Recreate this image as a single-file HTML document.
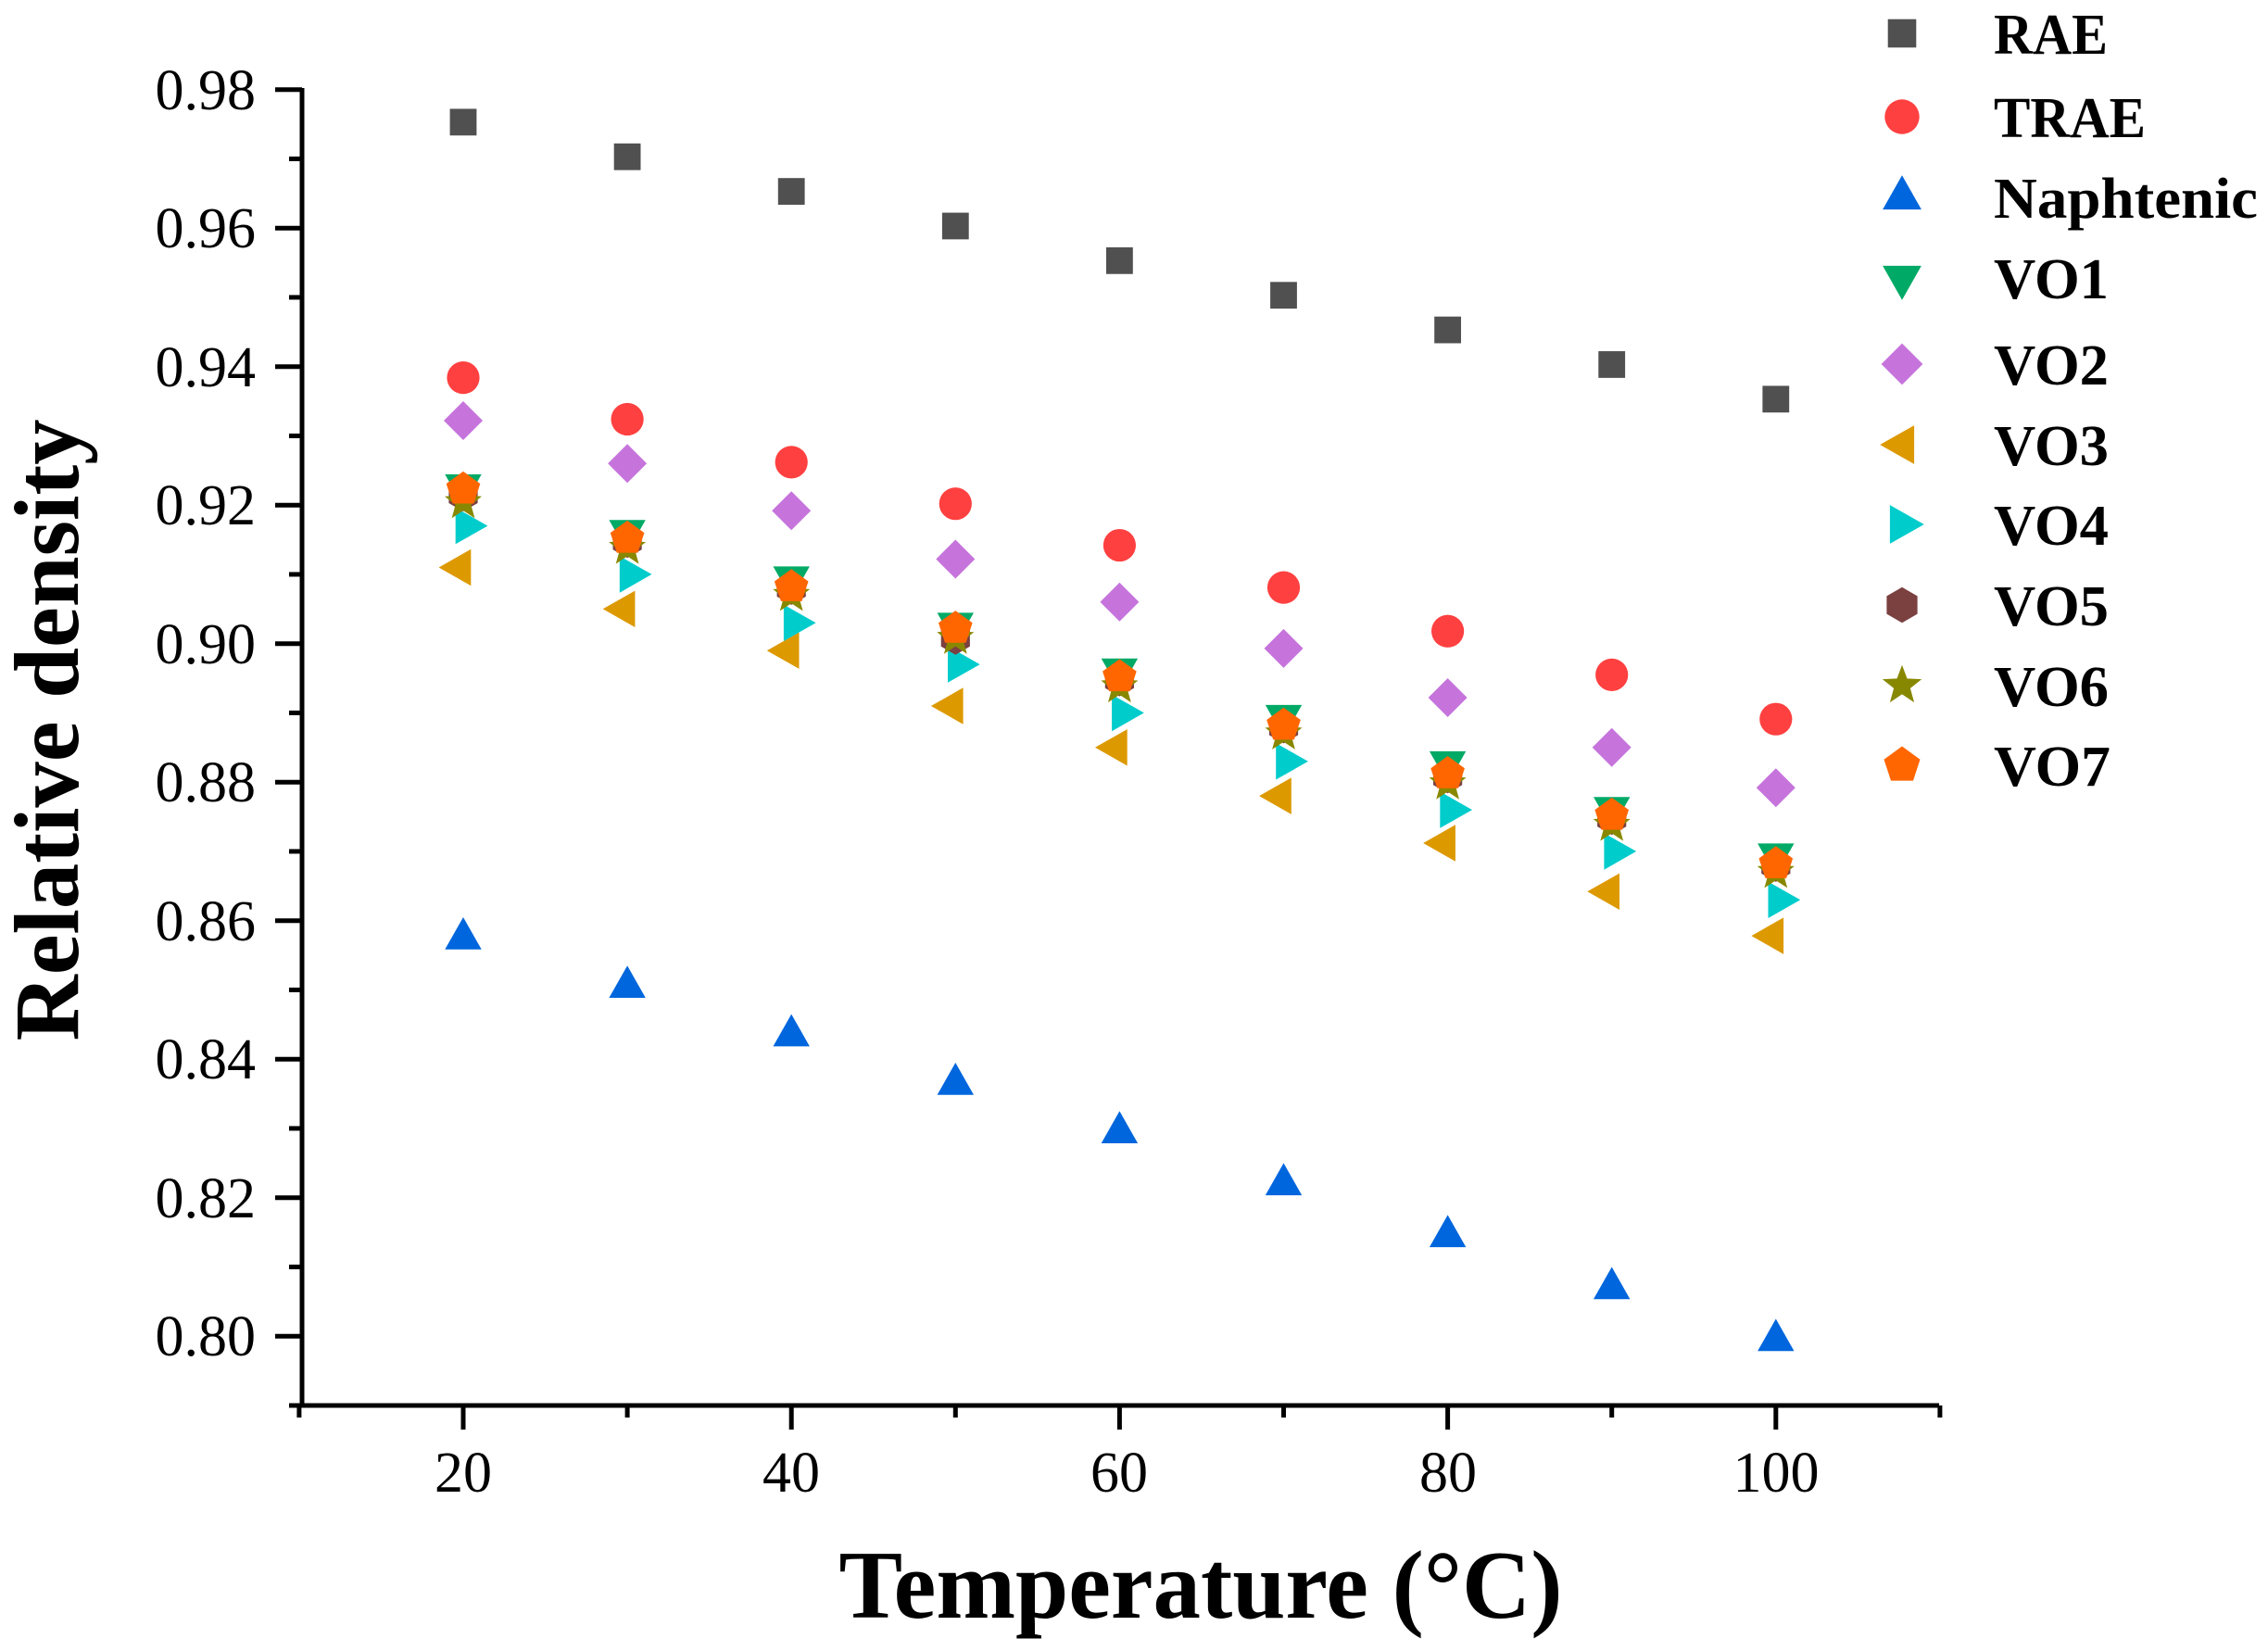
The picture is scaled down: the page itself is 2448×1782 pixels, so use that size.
<!DOCTYPE html>
<html><head><meta charset="utf-8"><style>html,body{margin:0;padding:0;background:#fff}svg{display:block}</style></head>
<body>
<svg id="s" width="2448" height="1782" xmlns="http://www.w3.org/2000/svg" font-family="Liberation Serif, serif">
<rect width="2448" height="1782" fill="#fff"/>
<g id="axes" stroke="#000" stroke-width="5" fill="none"></g>
<g font-size="62" text-anchor="end">
<text x="276" y="118">0.98</text>
<text x="276" y="267">0.96</text>
<text x="276" y="417">0.94</text>
<text x="276" y="566">0.92</text>
<text x="276" y="716">0.90</text>
<text x="276" y="865">0.88</text>
<text x="276" y="1015">0.86</text>
<text x="276" y="1164">0.84</text>
<text x="276" y="1314">0.82</text>
<text x="276" y="1463">0.80</text>
</g>
<g font-size="62" text-anchor="middle">
<text x="500" y="1610">20</text>
<text x="854" y="1610">40</text>
<text x="1208" y="1610">60</text>
<text x="1563" y="1610">80</text>
<text x="1917" y="1610">100</text>
</g>
<text x="1296" y="1746" font-size="105" font-weight="bold" text-anchor="middle" textLength="781" lengthAdjust="spacingAndGlyphs">Temperature (°C)</text>
<text transform="translate(84,788) rotate(-90)" font-size="100" font-weight="bold" text-anchor="middle" textLength="671" lengthAdjust="spacingAndGlyphs">Relative density</text>
<g id="pts"></g>
<g font-size="62" font-weight="bold" lengthAdjust="spacingAndGlyphs">
<text x="2152" y="58" textLength="123" lengthAdjust="spacingAndGlyphs">RAE</text>
<text x="2152" y="148" textLength="164" lengthAdjust="spacingAndGlyphs">TRAE</text>
<text x="2152" y="235" textLength="285" lengthAdjust="spacingAndGlyphs">Naphtenic</text>
<text x="2152" y="322" textLength="124" lengthAdjust="spacingAndGlyphs">VO1</text>
<text x="2152" y="415" textLength="124" lengthAdjust="spacingAndGlyphs">VO2</text>
<text x="2152" y="502" textLength="124" lengthAdjust="spacingAndGlyphs">VO3</text>
<text x="2152" y="588" textLength="124" lengthAdjust="spacingAndGlyphs">VO4</text>
<text x="2152" y="675" textLength="124" lengthAdjust="spacingAndGlyphs">VO5</text>
<text x="2152" y="762" textLength="124" lengthAdjust="spacingAndGlyphs">VO6</text>
<text x="2152" y="848" textLength="126" lengthAdjust="spacingAndGlyphs">VO7</text>
</g>
<g id="leg"></g>
</svg>
<script>
var NS="http://www.w3.org/2000/svg";
function X(v){return 500+(v-20)*17.71;}
function Y(v){return 96.7+(0.98-v)*7475;}
var ax=document.getElementById("axes");
function line(x1,y1,x2,y2){var l=document.createElementNS(NS,"line");l.setAttribute("x1",x1);l.setAttribute("y1",y1);l.setAttribute("x2",x2);l.setAttribute("y2",y2);ax.appendChild(l);}
line(326,95,326,1519);line(324,1517,2093,1517);
for(var i=0;i<=18;i++){var v=0.80+i*0.01;var y=Y(v);line(i%2==0?297:312,y,326,y);}
line(312,1517,326,1517);
for(var t=10;t<=110;t+=10){var x=X(t);line(x,1517,x,(t%20==0)?1543:1530);}
function poly(pts){return pts.map(function(p){return p[0].toFixed(1)+","+p[1].toFixed(1)}).join(" ");}
function shape(type,cx,cy,c,s,g){
 var e;
 if(type=="sq"){e=document.createElementNS(NS,"rect");e.setAttribute("x",cx-s*0.45);e.setAttribute("y",cy-s*0.45);e.setAttribute("width",s*0.9);e.setAttribute("height",s*0.9);}
 else if(type=="ci"){e=document.createElementNS(NS,"circle");e.setAttribute("cx",cx);e.setAttribute("cy",cy);e.setAttribute("r",s*0.55);}
 else{e=document.createElementNS(NS,"polygon");var p=[],r=s*0.7;
  if(type=="up")p=[[cx,cy-r],[cx+r*0.88,cy+r*0.55],[cx-r*0.88,cy+r*0.55]];
  if(type=="dn")p=[[cx,cy+r],[cx+r*0.88,cy-r*0.55],[cx-r*0.88,cy-r*0.55]];
  if(type=="lt")p=[[cx-r,cy],[cx+r*0.55,cy-r*0.88],[cx+r*0.55,cy+r*0.88]];
  if(type=="rt")p=[[cx+r,cy],[cx-r*0.55,cy-r*0.88],[cx-r*0.55,cy+r*0.88]];
  if(type=="di")p=[[cx,cy-r],[cx+r,cy],[cx,cy+r],[cx-r,cy]];
  if(type=="hx"){r=s*0.6;for(var k=0;k<6;k++){var a=Math.PI/2+k*Math.PI/3;p.push([cx+r*Math.cos(a),cy-r*Math.sin(a)]);}}
  if(type=="pe"){r=s*0.64;for(var k=0;k<5;k++){var a=Math.PI/2+k*2*Math.PI/5;p.push([cx+r*Math.cos(a),cy-r*Math.sin(a)]);}}
  if(type=="st"){r=s*0.62;for(var k=0;k<10;k++){var a=Math.PI/2+k*Math.PI/5;var rr=(k%2)?r*0.42:r;p.push([cx+rr*Math.cos(a),cy-rr*Math.sin(a)]);}}
  e.setAttribute("points",poly(p));}
 e.setAttribute("fill",c);g.appendChild(e);}
var T=[20,30,40,50,60,70,80,90,100];
var S=[
 ["sq","#505050",[0.9753,0.9703,0.9653,0.9603,0.9553,0.9503,0.9453,0.9403,0.9353],0,32],
 ["ci","#FF4040",[0.9384,0.9324,0.9262,0.9202,0.9142,0.9081,0.9018,0.8955,0.8891],0,32],
 ["up","#0066DD",[0.8575,0.8505,0.8435,0.8365,0.8295,0.822,0.8145,0.807,0.7995],0,32],
 ["dn","#00AA66",[0.9228,0.9162,0.9095,0.9028,0.8962,0.8895,0.8828,0.8762,0.8695],0,32],
 ["di","#C674DC",[0.9322,0.926,0.9192,0.9122,0.906,0.8993,0.8922,0.885,0.8792],0,30],
 ["lt","#DD9900",[0.911,0.905,0.899,0.891,0.885,0.878,0.8712,0.8642,0.8578],-4,32],
 ["rt","#00CCCC",[0.917,0.910,0.903,0.897,0.890,0.883,0.876,0.870,0.863],4,32],
 ["hx","#7B4040",[0.9215,0.9148,0.908,0.9008,0.8948,0.888,0.8808,0.8748,0.868],0,30],
 ["st","#888800",[0.9204,0.9138,0.907,0.9008,0.8938,0.887,0.8798,0.8738,0.867],0,34],
 ["pe","#FF6600",[0.9223,0.9152,0.9082,0.9022,0.8952,0.8882,0.8812,0.8752,0.8682],0,30]
];
var g=document.getElementById("pts");
S.forEach(function(s){s[2].forEach(function(v,i){shape(s[0],X(T[i])+s[3],Y(v),s[1],s[4],g);});});
var lg=document.getElementById("leg");
var LY=[36,126,213,300,393,480,566,653,740,826];
S.forEach(function(s,i){shape(s[0],2053,LY[i],s[1],s[4]+2,lg);});
</script>
</body></html>
